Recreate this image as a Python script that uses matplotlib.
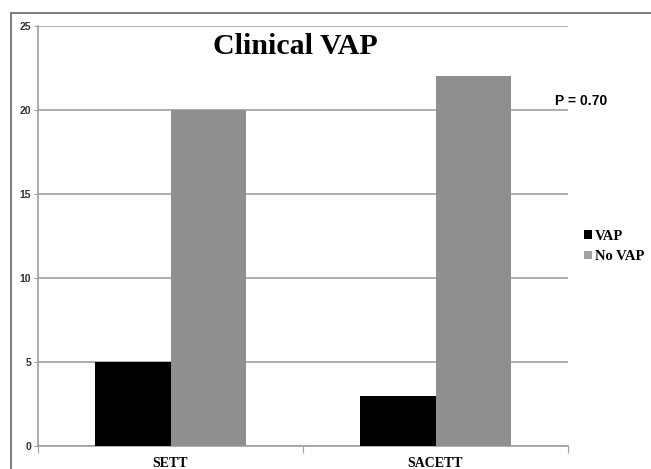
import matplotlib.pyplot as plt
import numpy as np
from matplotlib.patches import Rectangle

groups = ["SETT", "SACETT"]
vap = [5, 3]
no_vap = [20, 22]
series_names = ["VAP", "No VAP"]

W, H = 651, 469
fig = plt.figure(figsize=(W / 100, H / 100), dpi=100)

# outer frame
fig.patches.append(Rectangle((11 / W, -0.1), 1.2, 1 - 13 / H + 0.1, transform=fig.transFigure,
                             fill=False, edgecolor="#666666", linewidth=1.2))

ax = fig.add_axes([38 / W, 23 / H, 530 / W, 420 / H])
x = np.arange(len(groups))
bw = 0.285
ax.bar(x - bw / 2, vap, bw, color="black", label=series_names[0], zorder=3)
ax.bar(x + bw / 2, no_vap, bw, color="#8f8f8f", label=series_names[1], zorder=3)

ax.set_xlim(-0.5, 1.5)
ax.set_ylim(0, 25)
ax.set_yticks(range(0, 26, 5))
ax.yaxis.grid(True, color="#a0a0a0", linewidth=1.2, zorder=0)
for s in ["top", "right"]:
    ax.spines[s].set_visible(False)
ax.spines["left"].set_color("#a0a0a0")
ax.spines["bottom"].set_color("#a0a0a0")
ax.spines["left"].set_linewidth(1.2)
ax.spines["bottom"].set_linewidth(1.2)

ax.set_xticks([-0.5, 0.5, 1.5])
ax.set_xticklabels([])
ax.set_xticks(x, minor=True)
ax.set_xticklabels(groups, minor=True, fontfamily="Liberation Serif",
                   fontweight="bold", fontsize=10)
ax.tick_params(axis="x", which="minor", length=0, pad=8)
ax.tick_params(axis="x", which="major", length=5, color="#a0a0a0")
ax.tick_params(axis="y", length=3, color="#a0a0a0", labelsize=7.5, pad=2)
for t in ax.get_yticklabels():
    t.set_fontfamily("Liberation Sans")
    t.set_fontweight("bold")
    t.set_color("#333333")

fig.text(295 / W, 1 - 46 / H, "Clinical VAP", ha="center", va="center",
         fontfamily="Liberation Serif", fontweight="bold", fontsize=21.5)
fig.text(555 / W, 1 - 101 / H, "P = 0.70", ha="left", va="center",
         fontfamily="Liberation Sans", fontweight="bold", fontsize=10)

leg = ax.legend(loc="center left", bbox_to_anchor=(1.005, 0.475), frameon=False,
                prop={"family": "Liberation Serif", "weight": "bold", "size": 10.5},
                handlelength=0.55, handleheight=0.55, handletextpad=0.2, labelspacing=0.5)
leg.legend_handles[1].set_facecolor("#a3a3a3")

fig.savefig("out.png", dpi=100)
